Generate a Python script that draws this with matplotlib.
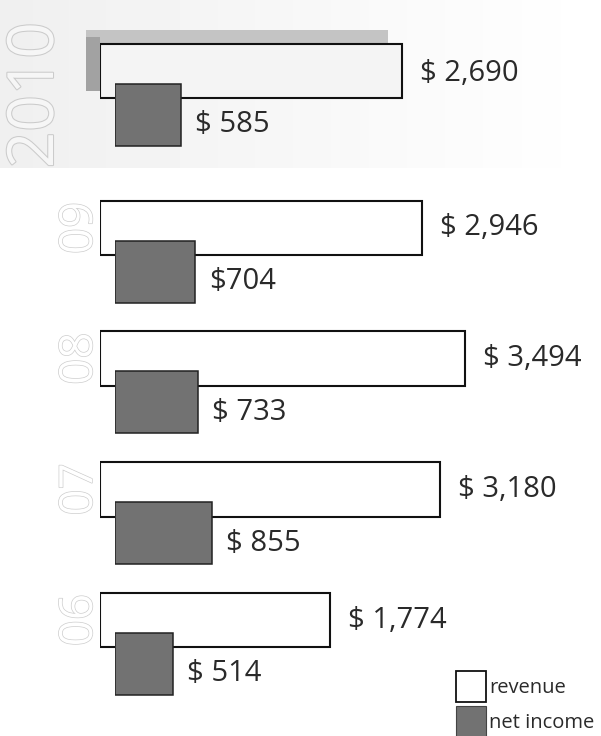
import numpy as np
import matplotlib
matplotlib.use("Agg")
import matplotlib.pyplot as plt
import matplotlib.patheffects as pe
from matplotlib.patches import Patch
from matplotlib.transforms import ScaledTranslation

plt.rcParams['font.family'] = ['Open Sans', 'DejaVu Sans']

# values (millions of dollars)
years = ["2010", "09", "08", "07", "06"]
revenue = [2690, 2946, 3494, 3180, 1774]
net_income = [585, 704, 733, 855, 514]
revenue_labels = ["$ 2,690", "$ 2,946", "$ 3,494", "$ 3,180", "$ 1,774"]
income_labels = ["$ 585", "$704", "$ 733", "$ 855", "$ 514"]

W, H = 601, 736
fig = plt.figure(figsize=(W / 100, H / 100), dpi=100)

# background layer in pixel units (halftone band behind the 2010 row)
ax_bg = fig.add_axes([0, 0, 1, 1])
ax_bg.set_xlim(0, W)
ax_bg.set_ylim(H, 0)
ax_bg.axis("off")
grad = np.linspace(0.88, 1.0, 200) ** 0.5
grad = np.vstack([grad, grad])
ax_bg.imshow(grad, cmap="gray", vmin=0, vmax=1, aspect="auto",
             extent=(0, W, 168, 0), interpolation="bilinear", zorder=0)

# row layout: 2010 sits a bit further above the rest
row_pos = np.array([-0.2, 1, 2, 3, 4])
ylim = (4.887, -0.744)
rev_h, ni_h, ni_shift = 0.417, 0.474, 0.335

# revenue axis: the chart's revenue scale does not start at zero
rev_floor, rev_px = -1180, 0.078
ax_rev = fig.add_axes([100 / W, 0, (W - 100) / W, 1])
ax_rev.set_xlim(rev_floor, rev_floor + (W - 100) / rev_px)
ax_rev.set_ylim(*ylim)
ax_rev.axis("off")
ax_rev.patch.set_alpha(0)

# net income axis (proportional scale), starts a little right of revenue
ni_px = 0.1136
ax_ni = fig.add_axes([115 / W, 0, (W - 115) / W, 1])
ax_ni.set_xlim(0, (W - 115) / ni_px)
ax_ni.set_ylim(*ylim)
ax_ni.axis("off")
ax_ni.patch.set_alpha(0)

rev_width = np.array(revenue) - rev_floor

# 3D look for the 2010 bar: offset grey copies behind it
top_face = ScaledTranslation(-0.14, 0.14, fig.dpi_scale_trans)
side_face = ScaledTranslation(-0.14, 0.07, fig.dpi_scale_trans)
ax_rev.barh(row_pos[0], rev_width[0], left=rev_floor, height=rev_h,
            color="#c4c4c4", linewidth=0, transform=ax_rev.transData + top_face,
            zorder=1, clip_on=False)
ax_rev.barh(row_pos[0], 14 / rev_px, left=rev_floor, height=rev_h,
            color="#a2a2a2", linewidth=0, transform=ax_rev.transData + side_face,
            zorder=1.5, clip_on=False)

fills = ["#f4f4f4"] + ["white"] * 4
ax_rev.barh(row_pos, rev_width, left=rev_floor, height=rev_h,
            color=fills, edgecolor="#111111", linewidth=1.5, zorder=2)
ax_ni.barh(row_pos + ni_shift, net_income, height=ni_h,
           color="#727272", edgecolor="#222222", linewidth=1.1, zorder=3)

txt = "#2a2a2a"
for i in range(len(years)):
    ax_rev.annotate(revenue_labels[i], xy=(revenue[i], row_pos[i]),
                    xytext=(18, -2 if i == 0 else 0), textcoords="offset pixels",
                    ha="left", va="center", fontsize=21, color=txt)
    ax_ni.annotate(income_labels[i], xy=(net_income[i], row_pos[i] + ni_shift),
                   xytext=(14, -10), textcoords="offset pixels",
                   ha="left", va="center", fontsize=21, color=txt)

outline = [pe.withStroke(linewidth=1.0, foreground="#cdcdcd")]
for i in range(1, len(years)):
    ax_rev.annotate(years[i], xy=(0, row_pos[i]), xycoords=("axes fraction", "data"),
                    xytext=(-20, 0), textcoords="offset pixels", rotation=90,
                    ha="center", va="center", fontsize=33, color="white",
                    path_effects=outline)
ax_rev.annotate(years[0], xy=(0, row_pos[0]), xycoords=("axes fraction", "data"),
                xytext=(-64, -24), textcoords="offset pixels", rotation=90,
                ha="center", va="center", fontsize=46, color="#f6f6f6",
                path_effects=[pe.withStroke(linewidth=1.5, foreground="#cbcbcb")])

handles = [Patch(facecolor="white", edgecolor="#111111", linewidth=1.3),
           Patch(facecolor="#727272", edgecolor="#444444", linewidth=0.8)]
fig.legend(handles, ["revenue", "net income"], loc="upper left",
           bbox_to_anchor=(456 / W, 1 - 671 / H), frameon=False, fontsize=14.5,
           handlelength=1.5, handleheight=2.0, handletextpad=0.15,
           labelspacing=0.2, borderpad=0, borderaxespad=0, labelcolor=txt)

fig.savefig("out.png", dpi=100)
